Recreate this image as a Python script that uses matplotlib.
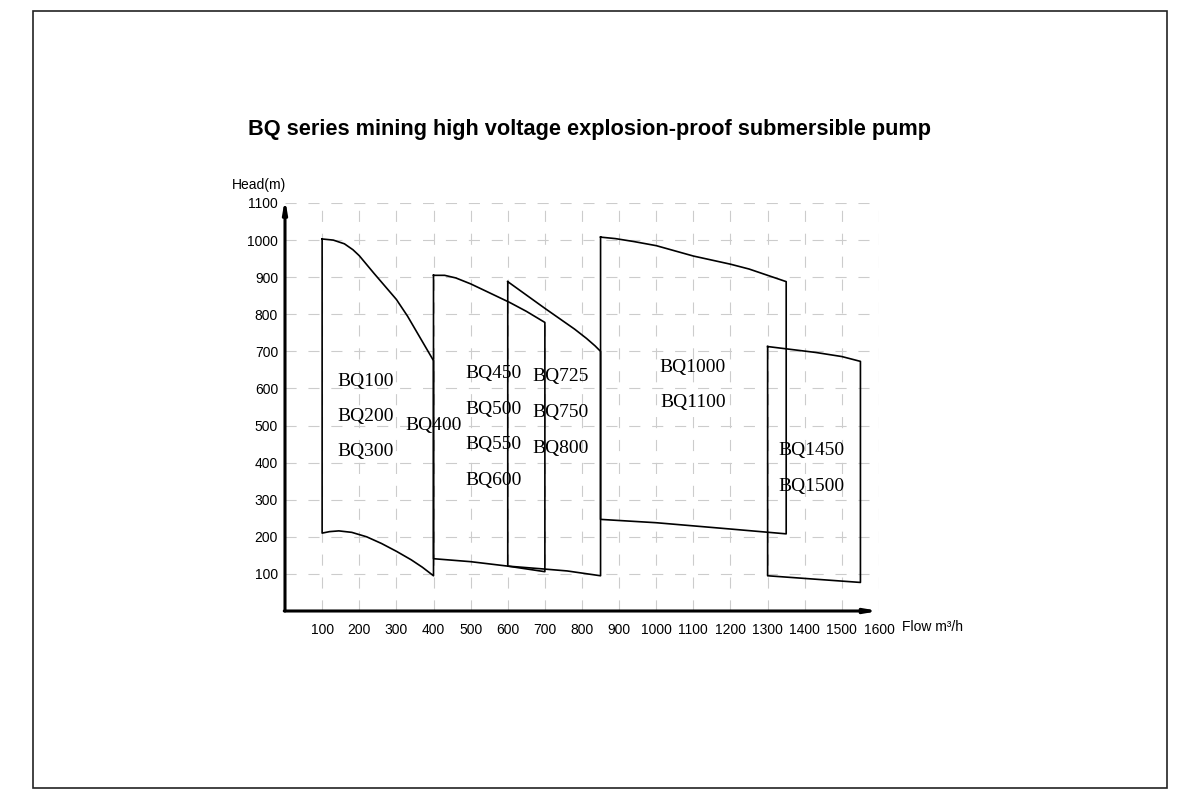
import matplotlib
matplotlib.use("Agg")
import matplotlib.pyplot as plt
from matplotlib.patches import Rectangle

# ---------------- data ----------------
title = "BQ series mining high voltage explosion-proof submersible pump"
x_ticks = [100, 200, 300, 400, 500, 600, 700, 800, 900, 1000, 1100, 1200, 1300, 1400, 1500, 1600]
y_ticks = [100, 200, 300, 400, 500, 600, 700, 800, 900, 1000, 1100]

# envelope BQ100-BQ300
e1_top_x = [100, 130, 160, 183, 200, 215, 240, 270, 300, 330, 365, 400]
e1_top_y = [1003, 1000, 990, 974, 958, 940, 910, 875, 840, 795, 735, 675]
e1_bot_x = [100, 120, 145, 180, 220, 260, 300, 340, 370, 400]
e1_bot_y = [210, 214, 216, 212, 200, 182, 161, 138, 118, 95]

# envelope BQ400
e2_top_x = [400, 430, 460, 500, 540, 605, 650, 700]
e2_top_y = [905, 905, 898, 882, 863, 832, 808, 778]
e2_bot_x = [400, 500, 600, 700]
e2_bot_y = [141, 133, 121, 106]

# envelope BQ725-BQ800
e3_top_x = [600, 700, 780, 812, 835, 850]
e3_top_y = [888, 816, 760, 735, 715, 700]
e3_bot_x = [600, 700, 760, 850]
e3_bot_y = [121, 113, 108, 95]

# envelope BQ1000-BQ1100
e4_top_x = [850, 890, 940, 1000, 1050, 1100, 1150, 1200, 1250, 1300, 1350]
e4_top_y = [1008, 1004, 996, 985, 971, 957, 946, 935, 922, 905, 888]
e4_bot_x = [850, 1000, 1200, 1350]
e4_bot_y = [247, 238, 221, 208]

# envelope BQ1450-BQ1500
e5_top_x = [1300, 1430, 1500, 1550]
e5_top_y = [713, 697, 686, 673]
e5_bot_x = [1300, 1550]
e5_bot_y = [95, 77]

labels = ["BQ100", "BQ200", "BQ300", "BQ400",
          "BQ450", "BQ500", "BQ550", "BQ600",
          "BQ725", "BQ750", "BQ800",
          "BQ1000", "BQ1100", "BQ1450", "BQ1500"]
label_x = [218, 218, 218, 400, 561, 561, 561, 561, 742, 742, 742, 1099, 1099, 1417, 1417]
label_y = [619, 524, 430, 499, 639, 544, 448, 353, 632, 535, 439, 657, 562, 434, 337]

# ---------------- figure ----------------
plt.rcParams['lines.scale_dashes'] = False
fig = plt.figure(figsize=(12, 8), dpi=100)
fig.patches.append(Rectangle((33 / 1200, 1 - 788 / 800), (1167 - 33) / 1200, (788 - 11) / 800,
                             transform=fig.transFigure, fill=False, lw=1.2, ec='#222222'))

ax = fig.add_axes([285 / 1200, 1 - 611 / 800, (879 - 285) / 1200, (611 - 203) / 800])
ax.set_xlim(0, 1600)
ax.set_ylim(0, 1100)
for s in ax.spines.values():
    s.set_visible(False)

# grid
grid_kw = dict(color='#cccccc', lw=0.8, linestyle=(0, (8, 8.5)), zorder=1)
for yv in y_ticks:
    ax.plot([0, 1600], [yv, yv], **grid_kw)
for xv in x_ticks:
    ax.plot([xv, xv], [0, 1100], **grid_kw)

# envelopes
line_kw = dict(color='black', lw=1.2, zorder=3, solid_joinstyle='round')
for tx, ty, bx, by in [(e1_top_x, e1_top_y, e1_bot_x, e1_bot_y),
                       (e2_top_x, e2_top_y, e2_bot_x, e2_bot_y),
                       (e3_top_x, e3_top_y, e3_bot_x, e3_bot_y),
                       (e4_top_x, e4_top_y, e4_bot_x, e4_bot_y),
                       (e5_top_x, e5_top_y, e5_bot_x, e5_bot_y)]:
    xs = list(tx) + list(bx[::-1]) + [tx[0]]
    ys = list(ty) + list(by[::-1]) + [ty[0]]
    ax.plot(xs, ys, **line_kw)

# labels
for t, lx, ly in zip(labels, label_x, label_y):
    ax.text(lx, ly, t, ha='center', va='center', fontsize=14,
            family='Liberation Serif', zorder=4)

# axes with arrows
arrow_kw = dict(arrowstyle='-|>,head_length=0.7,head_width=0.12', lw=2.2, color='black',
                shrinkA=0, shrinkB=0)
ax.annotate('', xy=(0, 1112), xytext=(0, 0), arrowprops=arrow_kw, annotation_clip=False, zorder=5)
ax.annotate('', xy=(1600, 0), xytext=(-2, 0), arrowprops=arrow_kw, annotation_clip=False, zorder=5)

# ticks
ax.set_xticks(x_ticks)
ax.set_yticks(y_ticks)
ax.set_xticklabels([str(v) for v in x_ticks], family='Liberation Sans', fontsize=10)
ax.set_yticklabels([str(v) for v in y_ticks], family='Liberation Sans', fontsize=10)
ax.tick_params(axis='both', length=0)
ax.tick_params(axis='x', pad=9)
ax.tick_params(axis='y', pad=5)

fig.text(232 / 1200, 1 - 185 / 800, "Head(m)", ha='left', va='center',
         family='Liberation Sans', fontsize=10)
fig.text(902 / 1200, 1 - 627 / 800, "Flow m³/h", ha='left', va='center',
         family='Liberation Sans', fontsize=10)
fig.text(589.5 / 1200, 1 - 130 / 800, title, ha='center', va='center',
         family='Liberation Sans', fontweight='bold', fontsize=15.7)

fig.savefig("out.png", dpi=100)
